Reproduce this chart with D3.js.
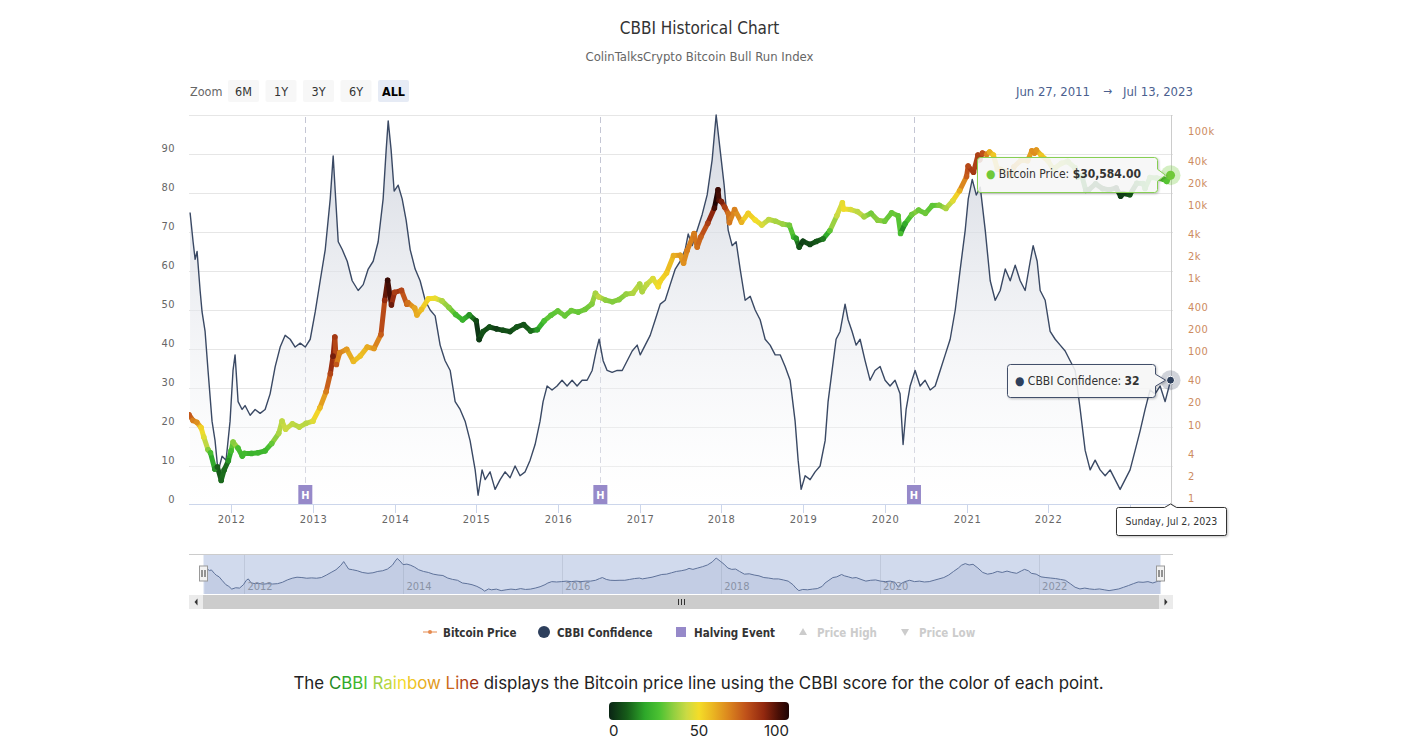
<!DOCTYPE html>
<html><head><meta charset="utf-8">
<script src="https://cdn.jsdelivr.net/npm/d3@7"></script>
<style>
html,body{margin:0;padding:0;background:#fff;}
svg{display:block;}
</style></head><body>
<svg id="c" width="1419" height="754"></svg>
<script>
// ---------------- DATA ----------------
// CBBI confidence score, [decimal year, value]
const cbbiSeries = [
[2011.498,75],[2011.535,67.5],[2011.56,63],[2011.584,65],[2011.621,55],[2011.645,49.5],[2011.682,44.5],[2011.718,34.5],
[2011.767,21.5],[2011.804,16.5],[2011.841,8.5],[2011.89,12.5],[2011.939,11.5],[2011.988,21.5],[2012.024,34.5],[2012.049,38.5],
[2012.086,26.5],[2012.135,24.5],[2012.171,25.5],[2012.233,23],[2012.294,24.5],[2012.355,23.5],[2012.416,24.5],[2012.477,28.5],
[2012.539,35.5],[2012.600,40.5],[2012.661,43.5],[2012.722,42.5],[2012.783,40.5],[2012.845,41.5],[2012.906,40.5],[2012.967,42.5],
[2013.028,49.5],[2013.089,57.5],[2013.151,65.5],[2013.212,78.5],[2013.248,89.5],[2013.273,80.5],[2013.310,67.5],[2013.359,65.5],
[2013.420,62.5],[2013.481,57.5],[2013.554,55],[2013.616,56.5],[2013.677,60.5],[2013.738,62.5],[2013.799,67.5],[2013.860,78.5],
[2013.897,91],[2013.922,98.5],[2013.958,91],[2013.995,80.5],[2014.044,82],[2014.093,78.5],[2014.142,73],[2014.191,65.5],
[2014.252,60.5],[2014.313,57.5],[2014.375,52.5],[2014.436,50],[2014.497,48.5],[2014.558,41],[2014.619,37],[2014.681,34.5],
[2014.742,26.5],[2014.803,24.5],[2014.864,21.5],[2014.925,16.5],[2014.987,9],[2015.023,2.5],[2015.072,9],[2015.109,6.5],
[2015.170,8.5],[2015.231,4],[2015.293,6.5],[2015.354,8.5],[2015.415,7],[2015.476,10],[2015.537,7.5],[2015.599,8.5],
[2015.660,11.5],[2015.721,15.5],[2015.782,21.5],[2015.819,26.5],[2015.868,30.5],[2015.929,29.5],[2015.990,30.5],[2016.051,32],
[2016.113,30.5],[2016.174,32],[2016.235,30.5],[2016.296,32],[2016.357,32],[2016.419,34.5],[2016.468,39.5],[2016.504,42.5],
[2016.553,37],[2016.602,34.5],[2016.663,34],[2016.725,34.5],[2016.786,34.5],[2016.847,37],[2016.908,39.5],[2016.969,41],
[2017.006,38.5],[2017.067,41],[2017.128,43.5],[2017.190,47.5],[2017.251,51.5],[2017.312,52.5],[2017.373,56.5],[2017.435,60.5],
[2017.496,62.5],[2017.557,65.5],[2017.594,69.5],[2017.643,66.5],[2017.704,70.5],[2017.765,74.5],[2017.826,79.5],[2017.887,88.5],
[2017.936,100],[2017.985,91],[2018.034,82],[2018.083,70.5],[2018.132,66.5],[2018.181,67.5],[2018.230,60.5],[2018.291,52.5],
[2018.353,53.5],[2018.414,50],[2018.475,47.5],[2018.536,42.5],[2018.597,41],[2018.659,38.5],[2018.720,38.5],[2018.781,35.5],
[2018.842,32],[2018.903,21.5],[2018.940,11.5],[2018.977,4],[2019.026,7.5],[2019.087,6.5],[2019.148,8.5],[2019.209,10],
[2019.271,16.5],[2019.307,26.5],[2019.356,34.5],[2019.405,42.5],[2019.454,44.5],[2019.515,51.5],[2019.552,47.5],[2019.601,44.5],
[2019.650,41],[2019.699,42.5],[2019.760,37],[2019.821,32],[2019.882,34.5],[2019.944,35.5],[2020.005,32],[2020.066,30.5],
[2020.127,32],[2020.188,28.5],[2020.225,15.5],[2020.262,24.5],[2020.311,30.5],[2020.372,34.5],[2020.433,30.5],[2020.494,32],
[2020.556,29.5],[2020.617,30.5],[2020.678,34.5],[2020.739,38.5],[2020.800,42.5],[2020.862,50],[2020.923,60.5],[2020.984,70.5],
[2021.021,78.5],[2021.070,83.5],[2021.119,79.5],[2021.168,81.5],[2021.229,70.5],[2021.290,57.5],[2021.351,52.5],[2021.412,55],
[2021.474,60.5],[2021.535,57.5],[2021.596,61.5],[2021.657,57.5],[2021.718,55],[2021.780,62.5],[2021.816,66.5],[2021.865,62.5],
[2021.902,55],[2021.963,52.5],[2022.024,44.5],[2022.086,42.5],[2022.147,41],[2022.208,39.5],[2022.269,37],[2022.330,34.5],
[2022.392,24.5],[2022.453,14],[2022.514,9],[2022.575,11.5],[2022.636,9],[2022.698,7.5],[2022.759,9],[2022.820,6.5],
[2022.881,4],[2022.942,6.5],[2023.003,9],[2023.065,14],[2023.126,19],[2023.187,24.5],[2023.248,29.5],[2023.309,28.5],
[2023.371,30.5],[2023.432,26.5],[2023.50,32],[2023.53,31]
];
// Bitcoin price (USD)
const priceSeries = [
["2011-06-27",16.5],["2011-07-15",13.8],["2011-08-01",13],["2011-08-20",11],["2011-09-01",8.2],["2011-09-20",5.5],["2011-10-01",5],
["2011-10-20",3.0],["2011-11-01",3.2],["2011-11-18",2.1],["2011-12-01",2.9],["2011-12-20",3.9],["2012-01-01",5.3],["2012-01-10",7],
["2012-02-01",5.8],["2012-02-20",4.5],["2012-03-01",4.9],["2012-04-01",4.9],["2012-05-01",5.0],["2012-06-01",5.3],["2012-07-01",6.7],
["2012-08-01",9.2],["2012-08-16",13.5],["2012-09-01",10.5],["2012-10-01",12.4],["2012-11-01",11.2],["2012-12-01",12.6],["2013-01-01",13.5],
["2013-02-01",20.5],["2013-03-01",34],["2013-03-20",60],["2013-04-01",104],["2013-04-09",190],["2013-04-16",80],["2013-05-01",116],
["2013-06-01",129],["2013-07-01",88],["2013-08-01",105],["2013-09-01",138],["2013-10-01",132],["2013-11-01",204],["2013-11-18",600],
["2013-12-01",1130],["2013-12-18",520],["2014-01-01",770],["2014-02-01",820],["2014-02-25",530],["2014-03-01",560],["2014-04-01",470],
["2014-04-11",380],["2014-05-01",450],["2014-06-01",630],["2014-07-01",640],["2014-08-01",590],["2014-09-01",480],["2014-10-01",385],
["2014-11-01",325],["2014-12-01",380],["2015-01-01",315],["2015-01-14",175],["2015-02-01",225],["2015-03-01",260],["2015-04-01",245],
["2015-05-01",235],["2015-06-01",225],["2015-07-01",260],["2015-08-01",280],["2015-09-01",230],["2015-10-01",238],["2015-11-01",315],
["2015-12-01",375],["2016-01-01",430],["2016-02-01",370],["2016-03-01",435],["2016-04-01",415],["2016-05-01",450],["2016-06-01",535],
["2016-06-17",750],["2016-07-01",670],["2016-08-01",605],["2016-09-01",575],["2016-10-01",615],["2016-11-01",730],["2016-12-01",750],
["2017-01-01",1000],["2017-01-12",790],["2017-02-01",990],["2017-03-01",1190],["2017-03-25",920],["2017-04-01",1080],["2017-05-01",1420],
["2017-06-01",2450],["2017-07-01",2480],["2017-07-16",1930],["2017-08-01",2870],["2017-09-01",4890],["2017-09-15",3200],["2017-10-01",4400],
["2017-11-01",6740],["2017-12-01",10900],["2017-12-17",19300],["2017-12-22",13800],["2018-01-01",13400],["2018-01-16",11200],["2018-02-01",9170],
["2018-02-06",6900],["2018-03-01",10400],["2018-04-01",6970],["2018-05-01",9240],["2018-06-01",7500],["2018-07-01",6390],["2018-08-01",7600],
["2018-09-01",7200],["2018-10-01",6600],["2018-11-01",6350],["2018-11-20",4400],["2018-12-01",4200],["2018-12-15",3200],["2019-01-01",3850],
["2019-02-01",3480],["2019-03-01",3820],["2019-04-01",4140],["2019-05-01",5350],["2019-06-01",8560],["2019-06-26",12900],["2019-07-01",10600],
["2019-08-01",10400],["2019-09-01",9760],["2019-10-01",8320],["2019-11-01",9260],["2019-12-01",7420],["2020-01-01",7200],["2020-02-01",9390],
["2020-03-01",8580],["2020-03-12",4900],["2020-04-01",6640],["2020-05-01",8860],["2020-06-01",10200],["2020-07-01",9230],["2020-08-01",11800],
["2020-09-01",11920],["2020-10-01",10780],["2020-11-01",13740],["2020-12-01",18800],["2021-01-01",29370],["2021-01-08",40800],["2021-02-01",33500],
["2021-02-21",57500],["2021-03-01",49600],["2021-03-13",61200],["2021-04-01",58700],["2021-04-14",63500],["2021-05-01",57800],["2021-05-19",37000],
["2021-06-01",36700],["2021-07-01",33500],["2021-07-20",29800],["2021-08-01",39900],["2021-09-01",48800],["2021-10-01",48100],["2021-10-20",65900],
["2021-11-01",61300],["2021-11-09",67500],["2021-12-01",57000],["2022-01-01",47700],["2022-01-24",36600],["2022-02-01",38700],["2022-03-01",44400],
["2022-03-29",47400],["2022-04-01",46300],["2022-05-01",38500],["2022-05-12",28900],["2022-06-01",29800],["2022-06-18",19000],["2022-07-01",19300],
["2022-08-01",23300],["2022-09-01",20100],["2022-10-01",19300],["2022-11-01",20500],["2022-11-21",15800],["2022-12-01",17200],["2023-01-01",16600],
["2023-02-01",23700],["2023-03-01",23600],["2023-03-10",20200],["2023-04-01",28500],["2023-05-01",28000],["2023-06-01",27000],["2023-06-15",25100],
["2023-07-01",30600],["2023-07-02",30584]
];
const halvingDates = ["2012-11-28","2016-07-09","2020-05-11"];
const cbbiTicks = [0,10,20,30,40,50,60,70,80,90];
const priceTicks = [1,2,4,10,20,40,100,200,400,1000,2000,4000,10000,20000,40000,100000];
const priceTickLabels = ["1","2","4","10","20","40","100","200","400","1k","2k","4k","10k","20k","40k","100k"];
const yearTicks = [2012,2013,2014,2015,2016,2017,2018,2019,2020,2021,2022,2023];
const navYearTicks = [2012,2014,2016,2018,2020,2022];
const zoomButtons = ["6M","1Y","3Y","6Y","ALL"];
const colorStops = [[0,"#0a2414"],[10,"#165c19"],[20,"#2ea82a"],[28,"#4cc232"],[36,"#93cf40"],[43,"#cada44"],[50,"#f4dc28"],
  [58,"#eab422"],[66,"#dc881e"],[76,"#c0521a"],[86,"#92280f"],[94,"#4a0f06"],[100,"#1e0404"]];
const colorbarTicks = [0,50,100];
const legendItems = [
  {name:"Bitcoin Price", type:"line", color:"#e58a4e", hidden:false},
  {name:"CBBI Confidence", type:"circle", color:"#2d3f5c", hidden:false},
  {name:"Halving Event", type:"square", color:"#9689c9", hidden:false},
  {name:"Price High", type:"tri-up", color:"#cccccc", hidden:true},
  {name:"Price Low", type:"tri-down", color:"#cccccc", hidden:true}
];
const dateRange = ["Jun 27, 2011","Jul 13, 2023"];
const hover = {date:"2023-07-02", price:30584, cbbi:32, label:"Sunday, Jul 2, 2023"};

// ---------------- HELPERS ----------------
const parse = d3.utcParse("%Y-%m-%d");
function fromDec(y){const yr=Math.floor(y);const a=Date.UTC(yr,0,1),b=Date.UTC(yr+1,0,1);return new Date(a+(y-yr)*(b-a));}
const cbbi = cbbiSeries.map(d=>({date:fromDec(d[0]), v:d[1]}));
const price = priceSeries.map(d=>({date:parse(d[0]), p:d[1]}));
const bis = d3.bisector(d=>d.date).left;
function cbbiAt(dt){
  let i = bis(cbbi, dt);
  if(i<=0) return cbbi[0].v; if(i>=cbbi.length) return cbbi[cbbi.length-1].v;
  const a=cbbi[i-1], b=cbbi[i]; const t=(dt-a.date)/(b.date-a.date); return a.v+(b.v-a.v)*t;
}
const color = d3.scaleLinear().domain(colorStops.map(s=>s[0])).range(colorStops.map(s=>s[1])).interpolate(d3.interpolateRgb).clamp(true);

const FONT = "'DejaVu Sans Condensed','DejaVu Sans',sans-serif";
const svg = d3.select("#c");
const defs = svg.append("defs");

// ---------------- SCALES ----------------
const L=189, R=1173, T=115, B=505;
const x = d3.scaleUtc().domain([parse("2011-06-27"), parse("2023-07-13")]).range([L,R]);
const yC = d3.scaleLinear().domain([0,100]).range([B,T]);
const yP = d3.scaleLog().domain([1,100000]).range([504,137.5]);

// ---------------- TITLE ----------------
svg.append("text").attr("x",699.5).attr("y",34).attr("text-anchor","middle")
  .style("font-family",FONT).style("font-size","17px").attr("fill","#333").text("CBBI Historical Chart");
svg.append("text").attr("x",699.5).attr("y",61).attr("text-anchor","middle")
  .style("font-family",FONT).style("font-size","13px").attr("fill","#666").text("ColinTalksCrypto Bitcoin Bull Run Index");

// ---------------- RANGE SELECTOR ----------------
svg.append("text").attr("x",190).attr("y",95.5).style("font-family",FONT).style("font-size","12.5px").attr("fill","#666").text("Zoom");
const bw=31, bgap=6.5, bx0=228;
zoomButtons.forEach((b,i)=>{
  const g=svg.append("g").attr("transform",`translate(${bx0+i*(bw+bgap)},80)`);
  const sel = b==="ALL";
  g.append("rect").attr("width",bw).attr("height",22).attr("rx",2).attr("fill",sel?"#e6ebf5":"#f7f7f7");
  g.append("text").attr("x",bw/2).attr("y",15.5).attr("text-anchor","middle").style("font-family",FONT)
    .style("font-size","12.5px").style("font-weight",sel?"bold":"normal").attr("fill",sel?"#000":"#333").text(b);
});
svg.append("text").attr("x",1090).attr("y",95.5).attr("text-anchor","end").style("font-family",FONT).style("font-size","13px").attr("fill","#4b5f8f").text(dateRange[0]);
svg.append("text").attr("x",1107.5).attr("y",95).attr("text-anchor","middle").style("font-family",FONT).style("font-size","12px").attr("fill","#4b5f8f").text("\u2192");
svg.append("text").attr("x",1123).attr("y",95.5).style("font-family",FONT).style("font-size","13px").attr("fill","#4b5f8f").text(dateRange[1]);

// ---------------- GRID ----------------
const grid = svg.append("g");
d3.range(0,101,10).forEach(v=>{
  if(v===0) return;
  grid.append("line").attr("x1",L).attr("x2",R).attr("y1",Math.round(yC(v))+0.5).attr("y2",Math.round(yC(v))+0.5).attr("stroke","#e6e6e6");
});

// halving plot lines
halvingDates.forEach(d=>{
  const xx=Math.round(x(parse(d)))+0.5;
  svg.append("line").attr("x1",xx).attr("x2",xx).attr("y1",T+2).attr("y2",B-20).attr("stroke","#c4c6d4").attr("stroke-dasharray","6,4");
});

// ---------------- CBBI AREA ----------------
const grad = defs.append("linearGradient").attr("id","areaG").attr("gradientUnits","userSpaceOnUse").attr("x1",0).attr("x2",0).attr("y1",T).attr("y2",B);
grad.append("stop").attr("offset",0).attr("stop-color","#c9ced9").attr("stop-opacity",0.8);
grad.append("stop").attr("offset",1).attr("stop-color","#ffffff").attr("stop-opacity",0.3);
defs.append("clipPath").attr("id","plotClip").append("rect").attr("x",L).attr("y",T-2).attr("width",R-L).attr("height",B-T+2);
const plot = svg.append("g").attr("clip-path","url(#plotClip)");
plot.append("path").datum(cbbi).attr("fill","url(#areaG)")
  .attr("d",d3.area().x(d=>x(d.date)).y0(B).y1(d=>yC(d.v)));
plot.append("path").datum(cbbi).attr("fill","none").attr("stroke","#3a4964").attr("stroke-width",1.4).attr("stroke-linejoin","round")
  .attr("d",d3.line().x(d=>x(d.date)).y(d=>yC(d.v)));

// ---------------- PRICE RAINBOW LINE ----------------
const pg = plot.append("g");
for(let i=1;i<price.length;i++){
  const a=price[i-1], b=price[i];
  const mid = new Date((+a.date + +b.date)/2);
  pg.append("line").attr("x1",x(a.date)).attr("y1",yP(a.p)).attr("x2",x(b.date)).attr("y2",yP(b.p))
    .attr("stroke",color(cbbiAt(mid))).attr("stroke-width",5).attr("stroke-linecap","round");
}
price.forEach(d=>{
  pg.append("circle").attr("cx",x(d.date)).attr("cy",yP(d.p)).attr("r",2.8).attr("fill",color(cbbiAt(d.date)));
});

// ---------------- HALVING FLAGS ----------------
halvingDates.forEach(d=>{
  const xx=x(parse(d));
  svg.append("rect").attr("x",xx-7).attr("y",485).attr("width",14).attr("height",19).attr("fill","#9689c9");
  svg.append("text").attr("x",xx).attr("y",498.5).attr("text-anchor","middle").style("font-family",FONT)
    .style("font-size","11px").style("font-weight","bold").attr("fill","#fff").text("H");
});

// ---------------- AXES ----------------
svg.append("line").attr("x1",L).attr("x2",R).attr("y1",B-0.5).attr("y2",B-0.5).attr("stroke","#ccd6eb");
yearTicks.forEach(yr=>{
  const xx=Math.round(x(new Date(Date.UTC(yr,0,1))))+0.5;
  svg.append("line").attr("x1",xx).attr("x2",xx).attr("y1",B).attr("y2",B+8).attr("stroke","#ccd6eb");
  svg.append("text").attr("x",xx).attr("y",523).attr("text-anchor","middle").style("font-family",FONT)
    .style("font-size","11px").attr("fill","#666").style("letter-spacing","0.6px").text(yr);
});
cbbiTicks.forEach(v=>{
  svg.append("text").attr("x",175).attr("y",yC(v)-6).attr("dy","0.35em").attr("text-anchor","end").style("font-family",FONT)
    .style("font-size","11px").attr("fill","#666").style("letter-spacing","0.5px").text(v);
});
priceTicks.forEach((v,i)=>{
  svg.append("text").attr("x",1188).attr("y",yP(v)-6).attr("dy","0.35em").style("font-family",FONT)
    .style("font-size","11px").attr("fill","#cd8b5f").style("letter-spacing","0.5px").text(priceTickLabels[i]);
});

// ---------------- HOVER / TOOLTIPS ----------------
const hx = x(parse(hover.date));
svg.append("line").attr("x1",Math.round(hx)+0.5).attr("x2",Math.round(hx)+0.5).attr("y1",T).attr("y2",B).attr("stroke","#cccccc");
const sh = defs.append("filter").attr("id","shadow").attr("x","-20%").attr("y","-20%").attr("width","140%").attr("height","160%");
sh.append("feDropShadow").attr("dx",1).attr("dy",1).attr("stdDeviation",1.2).attr("flood-color","#000").attr("flood-opacity",0.25);

const pColor = color(hover.cbbi);
const py = yP(hover.price), cy = yC(hover.cbbi);
svg.append("circle").attr("cx",hx).attr("cy",py).attr("r",10).attr("fill",pColor).attr("opacity",0.3);
svg.append("circle").attr("cx",hx).attr("cy",py).attr("r",4.5).attr("fill",pColor);
svg.append("circle").attr("cx",hx).attr("cy",cy).attr("r",10).attr("fill","#434f6b").attr("opacity",0.25);
svg.append("circle").attr("cx",hx).attr("cy",cy).attr("r",4).attr("fill","#2d3f5c").attr("stroke","#fff").attr("stroke-width",1);

function calloutRight(x0,y0,x1,y1,ax,ay,r){
  const pt = Math.max(y0+r+6, Math.min(y1-r-6, ay));
  return `M${x0+r},${y0} L${x1-r},${y0} Q${x1},${y0} ${x1},${y0+r} L${x1},${pt-6} L${ax},${ay} L${x1},${pt+6} L${x1},${y1-r} Q${x1},${y1} ${x1-r},${y1} L${x0+r},${y1} Q${x0},${y1} ${x0},${y1-r} L${x0},${y0+r} Q${x0},${y0} ${x0+r},${y0} Z`;
}
function calloutTop(x0,y0,x1,y1,ax,ay,r){
  return `M${x0+r},${y0} L${ax-6},${y0} L${ax},${ay} L${ax+6},${y0} L${x1-r},${y0} Q${x1},${y0} ${x1},${y0+r} L${x1},${y1-r} Q${x1},${y1} ${x1-r},${y1} L${x0+r},${y1} Q${x0},${y1} ${x0},${y1-r} L${x0},${y0+r} Q${x0},${y0} ${x0+r},${y0} Z`;
}
// price tooltip
svg.append("path").attr("d",calloutRight(977.5,157.5,1157.5,192.5,hx-5,py,3)).attr("fill","rgba(250,250,250,0.85)")
  .attr("stroke","#86cf52").attr("stroke-width",1).attr("filter","url(#shadow)");
const t1 = svg.append("text").attr("x",986).attr("y",178).style("font-family",FONT).style("font-size","12px").attr("fill","#333");
t1.append("tspan").attr("fill",pColor).text("\u25CF ");
t1.append("tspan").text("Bitcoin Price: ");
t1.append("tspan").style("font-weight","bold").text("$"+d3.format(",.2f")(hover.price));
// cbbi tooltip
svg.append("path").attr("d",calloutRight(1007.5,364.5,1155.5,397.5,hx-5,cy,3)).attr("fill","rgba(250,250,250,0.85)")
  .attr("stroke","#434f6b").attr("stroke-width",1).attr("filter","url(#shadow)");
const t2 = svg.append("text").attr("x",1015).attr("y",385).style("font-family",FONT).style("font-size","12px").attr("fill","#333");
t2.append("tspan").attr("fill","#2d3f5c").text("\u25CF ");
t2.append("tspan").text("CBBI Confidence: ");
t2.append("tspan").style("font-weight","bold").text(hover.cbbi);
// date tooltip
svg.append("path").attr("d",calloutTop(1116.5,507.5,1226.5,535.5,hx,B-1,2)).attr("fill","#fff")
  .attr("stroke","#333").attr("stroke-width",1).attr("filter","url(#shadow)");
svg.append("text").attr("x",1171.5).attr("y",525).attr("text-anchor","middle").style("font-family",FONT).style("font-size","10.5px").attr("fill","#333").text(hover.label);

// ---------------- NAVIGATOR ----------------
const NL=203.5, NR=1160.5, NT=555, NB=594;
const nx = d3.scaleUtc().domain(x.domain()).range([NL,NR]);
const ny = d3.scaleLinear().domain([0,100]).range([592,558]);
svg.append("line").attr("x1",L).attr("x2",R).attr("y1",NT-0.5).attr("y2",NT-0.5).attr("stroke","#cccccc");
navYearTicks.forEach(yr=>{
  const xx=Math.round(nx(new Date(Date.UTC(yr,0,1))))+0.5;
  svg.append("line").attr("x1",xx).attr("x2",xx).attr("y1",NT).attr("y2",NB).attr("stroke","#e6e6e6");
});
svg.append("path").datum(cbbi).attr("fill","rgba(120,135,165,0.15)")
  .attr("d",d3.area().x(d=>nx(d.date)).y0(NB).y1(d=>ny(d.v)));
svg.append("path").datum(cbbi).attr("fill","none").attr("stroke","#5b6a88").attr("stroke-width",1)
  .attr("d",d3.line().x(d=>nx(d.date)).y(d=>ny(d.v)));
navYearTicks.forEach(yr=>{
  const xx=nx(new Date(Date.UTC(yr,0,1)));
  svg.append("text").attr("x",xx+3).attr("y",590).style("font-family",FONT).style("font-size","11px").attr("fill","#999").text(yr);
});
svg.append("rect").attr("x",NL).attr("y",NT).attr("width",NR-NL).attr("height",NB-NT).attr("fill","rgba(102,133,194,0.3)");
[NL,NR].forEach(hxx=>{
  const g=svg.append("g").attr("transform",`translate(${Math.round(hxx)-0.5},566)`);
  g.append("rect").attr("x",-4).attr("y",0).attr("width",8).attr("height",15).attr("fill","#f2f2f2").attr("stroke","#999");
  g.append("line").attr("x1",-1.5).attr("x2",-1.5).attr("y1",4).attr("y2",11).attr("stroke","#333");
  g.append("line").attr("x1",1.5).attr("x2",1.5).attr("y1",4).attr("y2",11).attr("stroke","#333");
});
// scrollbar
svg.append("rect").attr("x",L).attr("y",595).attr("width",R-L).attr("height",14).attr("fill","#f2f2f2");
svg.append("rect").attr("x",L+14).attr("y",595).attr("width",R-L-28).attr("height",14).attr("fill","#cccccc");
[[L,1],[R-14,-1]].forEach(([bx,dir])=>{
  svg.append("rect").attr("x",bx).attr("y",595).attr("width",14).attr("height",14).attr("fill","#ebebeb");
  const cx=bx+7;
  svg.append("path").attr("d",dir>0?`M${cx+1.5},598.5 L${cx-1.5},602 L${cx+1.5},605.5 Z`:`M${cx-1.5},598.5 L${cx+1.5},602 L${cx-1.5},605.5 Z`).attr("fill","#333");
});
[-3,0,3].forEach(o=>{
  svg.append("line").attr("x1",681.5+o).attr("x2",681.5+o).attr("y1",599).attr("y2",605).attr("stroke","#333");
});

// ---------------- LEGEND ----------------
const legendX = [[430,443],[544,557],[681,694],[803,817],[905,919]];
legendItems.forEach((it,i)=>{
  const [sx,tx]=legendX[i]; const yy=632;
  const g=svg.append("g");
  if(it.type==="line"){
    g.append("line").attr("x1",sx-7).attr("x2",sx+7).attr("y1",yy).attr("y2",yy).attr("stroke",it.color).attr("stroke-width",1);
    g.append("circle").attr("cx",sx).attr("cy",yy).attr("r",2).attr("fill",it.color);
  } else if(it.type==="circle"){
    g.append("circle").attr("cx",sx).attr("cy",yy).attr("r",6).attr("fill",it.color);
  } else if(it.type==="square"){
    g.append("rect").attr("x",sx-5).attr("y",yy-5).attr("width",10).attr("height",10).attr("fill",it.color);
  } else if(it.type==="tri-up"){
    g.append("path").attr("d",`M${sx},${yy-4} L${sx+4},${yy+3} L${sx-4},${yy+3} Z`).attr("fill",it.color);
  } else {
    g.append("path").attr("d",`M${sx-4},${yy-3} L${sx+4},${yy-3} L${sx},${yy+4} Z`).attr("fill",it.color);
  }
  g.append("text").attr("x",tx).attr("y",yy+4.5).style("font-family",FONT).style("font-size","11.5px").style("font-weight","bold")
    .attr("fill",it.hidden?"#cccccc":"#333").text(it.name);
});

// ---------------- BOTTOM DESCRIPTION ----------------
const BF = "Inter,'Open Sans',sans-serif";
const desc = svg.append("text").attr("x",698.5).attr("y",689).attr("text-anchor","middle").style("font-family",BF).style("font-size","17px").attr("fill","#222");
desc.append("tspan").text("The ");
const rb = "CBBI Rainbow Line";
rb.split("").forEach((ch,i)=>{
  desc.append("tspan").attr("fill",color(16+ i*(68/(rb.length-1)))).text(ch);
});
desc.append("tspan").text(" displays the Bitcoin price line using the CBBI score for the color of each point.");
const w = desc.node().getComputedTextLength();
desc.style("font-size",(17*811/w).toFixed(2)+"px");

const cg = defs.append("linearGradient").attr("id","cbG").attr("x1",0).attr("x2",1).attr("y1",0).attr("y2",0);
colorStops.forEach(s=>cg.append("stop").attr("offset",s[0]/100).attr("stop-color",s[1]));
const cbx = d3.scaleLinear().domain([0,100]).range([609,789]);
svg.append("rect").attr("x",cbx(0)).attr("y",702).attr("width",cbx(100)-cbx(0)).attr("height",18).attr("rx",4).attr("fill","url(#cbG)");
colorbarTicks.forEach((v,i)=>{
  svg.append("text").attr("x",cbx(v)).attr("y",736).attr("text-anchor",i===0?"start":(i===2?"end":"middle"))
    .style("font-family",BF).style("font-size","15px").attr("fill","#222").text(v);
});
</script>
</body></html>
